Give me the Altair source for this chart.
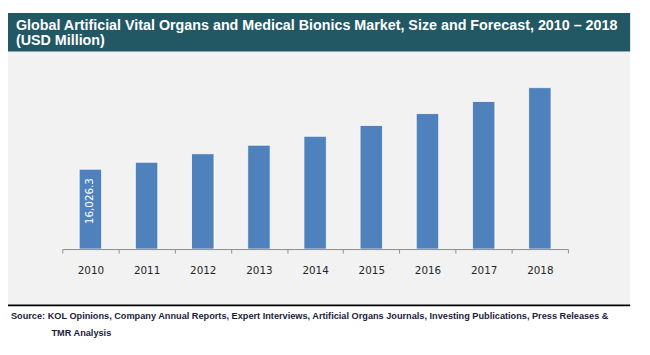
import altair as alt
import pandas as pd

years = ["2010", "2011", "2012", "2013", "2014", "2015", "2016", "2017", "2018"]
values = [16026.3, 17415, 19117, 20839, 22620, 24797, 27172, 29606, 32376]
bar_labels = ["16,026.3", "", "", "", "", "", "", "", ""]
title_lines = [
    "Global Artificial Vital Organs and Medical Bionics Market, Size and Forecast, 2010 \u2013 2018",
    "(USD Million)",
]
source_lines = [
    "Source: KOL Opinions, Company Annual Reports, Expert Interviews, Artificial Organs Journals, Investing Publications, Press Releases &",
    "TMR Analysis",
]

df = pd.DataFrame({"year": years, "value": values, "label": bar_labels})
one = pd.DataFrame({"a": [0]})

SANS = "Liberation Sans, Arial, sans-serif"

panel = alt.Chart(one).mark_rect(color="#F2F2F2").encode(
    x=alt.value(-55), x2=alt.value(575), y=alt.value(2), y2=alt.value(258)
)
banner = alt.Chart(one).mark_rect(color="#215864").encode(
    x=alt.value(-55), x2=alt.value(575), y=alt.value(-37), y2=alt.value(2)
)
rule_line = alt.Chart(one).mark_rect(color="#000000").encode(
    x=alt.value(-55), x2=alt.value(575), y=alt.value(258), y2=alt.value(260)
)

x_enc = alt.X(
    "year:N",
    sort=years,
    scale=alt.Scale(paddingInner=0, paddingOuter=0),
    axis=alt.Axis(
        title=None,
        labelAngle=0,
        tickBand="extent",
        tickSize=4,
        domainColor="#8C8C8C",
        tickColor="#8C8C8C",
        labelFont="DejaVu Sans",
        labelFontSize=10.5,
        labelColor="#262626",
        labelPadding=12.5,
        grid=False,
        zindex=1,
    ),
)
y_enc = alt.Y("value:Q", scale=alt.Scale(domain=[0, 40000]), axis=None)

bars = alt.Chart(df).mark_bar(
    width={"band": 0.4}, color="#4F81BD", stroke="#FFFFFF", strokeWidth=0.8
).encode(x=x_enc, y=y_enc)

bar_text = alt.Chart(df).mark_text(
    angle=270, align="right", baseline="middle", dx=-9,
    color="#FFFFFF", font="DejaVu Sans", fontSize=10.5
).encode(x=x_enc, y=y_enc, text="label:N")

title1 = alt.Chart(one).mark_text(
    text=title_lines[0], align="left", baseline="alphabetic",
    font=SANS, fontSize=14.5, fontWeight="bold", color="#FFFFFF"
).encode(x=alt.value(-47), y=alt.value(-20))
title2 = alt.Chart(one).mark_text(
    text=title_lines[1], align="left", baseline="alphabetic",
    font=SANS, fontSize=14.5, fontWeight="bold", color="#FFFFFF"
).encode(x=alt.value(-47), y=alt.value(-5))

src1 = alt.Chart(one).mark_text(
    text=source_lines[0], align="left", baseline="alphabetic",
    font=SANS, fontSize=9.3, fontWeight="bold", color="#1C1C3C"
).encode(x=alt.value(-52), y=alt.value(273))
src2 = alt.Chart(one).mark_text(
    text=source_lines[1], align="left", baseline="alphabetic",
    font=SANS, fontSize=9.3, fontWeight="bold", color="#1C1C3C"
).encode(x=alt.value(-11), y=alt.value(290))

chart = alt.layer(
    panel, banner, rule_line, bars, bar_text, title1, title2, src1, src2
).properties(
    width=512,
    height=202,
    padding={"left": 55, "top": 40, "right": 75, "bottom": 95},
    autosize="none",
    background="#FFFFFF",
).configure_view(strokeWidth=0)

chart.save("out.html", embed_options={"renderer": "svg", "actions": False})
